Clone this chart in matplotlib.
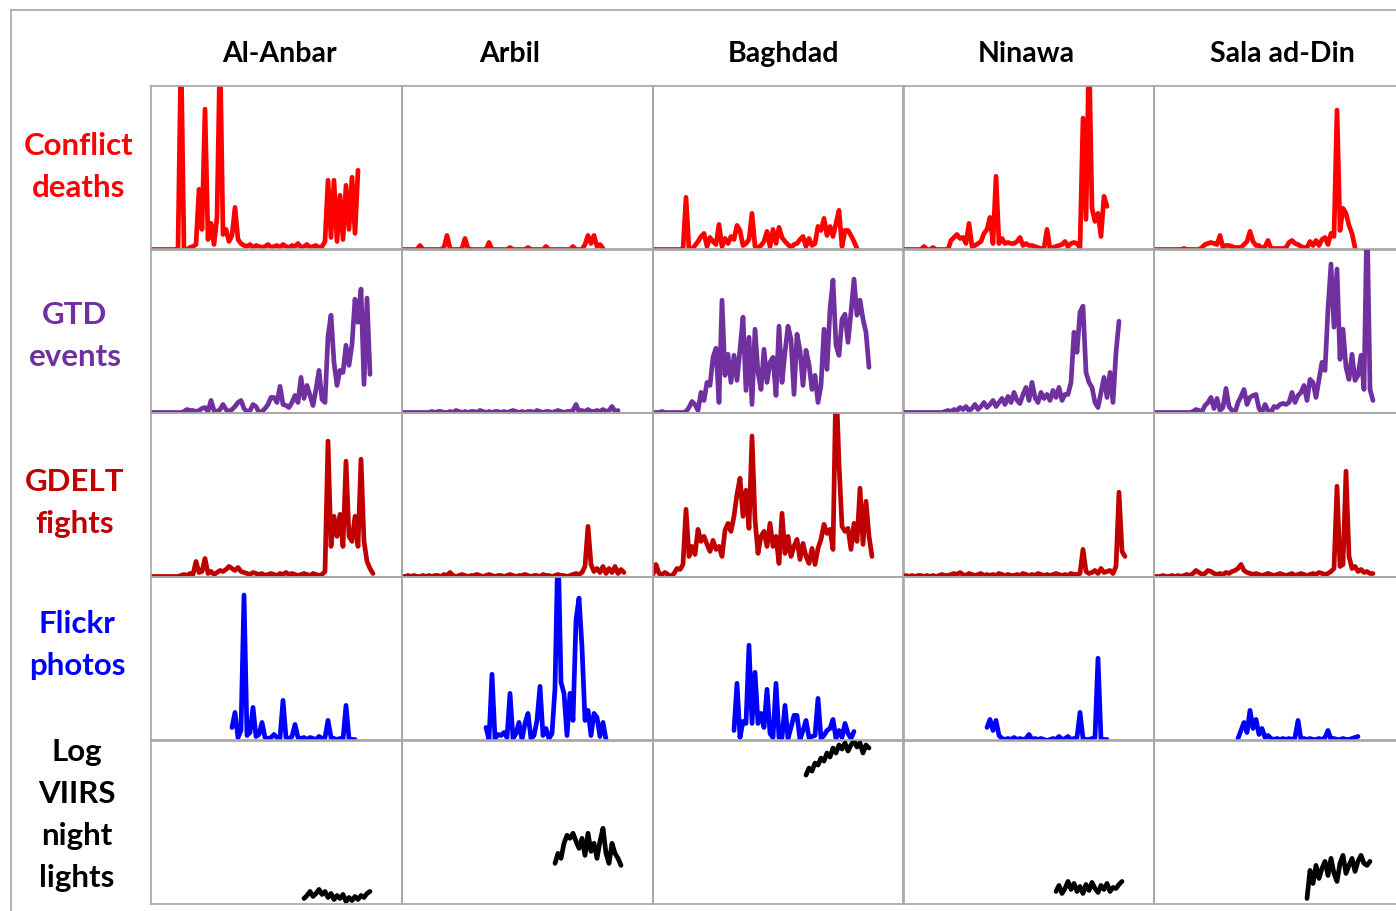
import matplotlib.pyplot as plt

regions = ["Al-Anbar", "Arbil", "Baghdad", "Ninawa", "Sala ad-Din"]
row_labels = ["Conflict\ndeaths", "GTD\nevents", "GDELT\nfights", "Flickr\nphotos",
              "Log\nVIIRS\nnight\nlights"]
row_colors = ["#FF0000", "#7030A0", "#C00000", "#0000FF", "#000000"]

deaths_anbar = [0, 0, 0, 0, 0, 0, 0, 0, 0, 0, 200, 0, 0, 2, 3, 5, 60, 20, 140, 10,
                26, 5, 32, 200, 15, 20, 8, 14, 42, 10, 6, 4, 3, 5, 2, 4, 3, 2, 3, 5,
                2, 3, 4, 2, 5, 3, 2, 4, 3, 6, 2, 3, 5, 2, 3, 4, 2, 3, 8, 69,
                12, 69, 8, 54, 10, 64, 20, 72, 16, 79]
deaths_arbil = [0, 0, 0, 0, 0, 0, 4, 0, 0, 0, 0, 0, 0, 0, 2, 14, 1, 0, 0, 0,
                1, 11, 1, 0, 0, 0, 0, 0, 0, 7, 0, 0, 0, 0, 0, 0, 2, 0, 0, 0,
                0, 0, 2, 0, 0, 0, 0, 0, 3, 0, 0, 0, 0, 0, 0, 0, 0, 3, 0, 0,
                0, 5, 14, 6, 14, 3, 5, 1]
deaths_baghdad = [0, 0, 0, 0, 0, 0, 0, 0, 0, 0, 0, 52, 0, 0, 4, 8, 13, 16, 3, 12,
                  8, 5, 25, 3, 11, 6, 13, 10, 24, 19, 4, 6, 10, 36, 3, 2, 4, 8, 18, 3,
                  20, 6, 22, 12, 8, 5, 2, 5, 6, 10, 13, 3, 11, 4, 6, 23, 19, 31, 14, 23,
                  13, 26, 39, 3, 19, 19, 14, 8, 1]
deaths_ninawa = [0, 0, 0, 0, 0, 0, 0, 3, 0, 0, 2, 0, 0, 0, 0, 0, 9, 12, 15, 11,
                 12, 6, 26, 3, 4, 6, 8, 16, 20, 32, 6, 73, 6, 11, 6, 7, 6, 6, 8, 12,
                 4, 6, 4, 4, 3, 2, 1, 1, 20, 1, 2, 3, 4, 5, 8, 3, 6, 7, 6, 2,
                 131, 30, 200, 41, 28, 36, 13, 53, 43]
deaths_sala = [0, 0, 0, 0, 0, 0, 0, 0, 0, 0, 1, 0, 0, 0, 0, 0, 2, 5, 6, 7,
               6, 5, 14, 2, 4, 4, 3, 2, 2, 2, 5, 8, 18, 8, 4, 4, 1, 3, 9, 1,
               1, 1, 1, 1, 2, 7, 9, 6, 5, 3, 2, 2, 8, 4, 9, 4, 10, 12, 5, 16,
               13, 139, 19, 41, 36, 24, 16, 2]

gtd_anbar = [0, 0, 0, 0, 0, 0, 0, 0, 0, 0, 0, 1, 3, 2, 2, 1, 2, 4, 5, 1,
             12, 2, 1, 3, 8, 3, 1, 3, 6, 10, 12, 4, 1, 2, 8, 6, 0, 1, 4, 8,
             15, 15, 10, 26, 8, 7, 5, 10, 17, 10, 35, 14, 27, 17, 7, 23, 42, 13, 10, 76,
             97, 50, 27, 42, 40, 67, 47, 68, 113, 90, 123, 28, 114, 38]
gtd_arbil = [0, 0, 0, 0, 0, 0, 0, 0, 0, 0, 1, 0, 1, 1, 0, 0, 1, 0, 2, 1,
             0, 1, 0, 1, 1, 0, 2, 1, 0, 1, 0, 1, 1, 0, 1, 0, 1, 2, 1, 0,
             1, 0, 1, 1, 0, 2, 1, 0, 1, 1, 0, 1, 2, 1, 0, 1, 1, 2, 8, 1,
             2, 1, 3, 1, 1, 2, 1, 3, 1, 2, 6, 1, 2]
gtd_baghdad = [0, 0, 0, 1, 0, 0, 0, 0, 0, 0, 0, 1, 5, 11, 8, 2, 20, 12, 30, 27,
               55, 64, 10, 112, 37, 58, 30, 57, 32, 63, 95, 22, 75, 8, 83, 40, 23, 63, 30, 50,
               55, 17, 86, 30, 60, 86, 73, 18, 78, 62, 27, 62, 48, 23, 37, 10, 27, 83, 43, 103,
               132, 67, 57, 93, 98, 70, 100, 133, 97, 112, 93, 80, 45]
gtd_ninawa = [0, 0, 0, 0, 0, 0, 0, 0, 0, 0, 0, 0, 0, 0, 1, 2, 1, 3, 2, 5,
              3, 6, 2, 4, 8, 3, 6, 10, 5, 8, 12, 6, 10, 14, 8, 16, 10, 20, 12, 9,
              18, 25, 12, 30, 15, 10, 20, 14, 18, 12, 22, 15, 25, 12, 18, 18, 30, 80, 60, 100,
              106, 40, 30, 25, 10, 5, 20, 35, 15, 40, 10, 60, 91]
gtd_sala = [0, 0, 0, 0, 0, 0, 0, 0, 0, 0, 0, 0, 0, 1, 3, 2, 1, 7, 10, 15,
            4, 14, 2, 5, 24, 6, 2, 0, 10, 16, 23, 8, 15, 17, 18, 4, 0, 8, 2, 0,
            6, 5, 8, 9, 8, 10, 20, 10, 17, 20, 27, 12, 33, 30, 15, 33, 50, 42, 103, 148,
            85, 143, 53, 83, 45, 33, 58, 32, 37, 57, 23, 200, 23, 12]

gdelt_anbar = [0, 0, 0, 0, 0, 0, 0, 0, 0, 0, 1, 2, 1, 3, 2, 15, 4, 5, 18, 3,
               5, 2, 4, 6, 5, 7, 10, 8, 6, 9, 5, 4, 3, 2, 4, 3, 2, 3, 1, 2,
               3, 2, 1, 3, 2, 4, 2, 3, 2, 1, 2, 3, 2, 1, 3, 2, 1, 2, 5, 135,
               30, 60, 40, 62, 30, 115, 40, 35, 60, 30, 117, 35, 15, 8, 3]
gdelt_arbil = [0, 0, 1, 0, 1, 0, 0, 1, 0, 1, 0, 1, 1, 0, 2, 1, 4, 1, 0, 1,
               2, 1, 0, 1, 1, 2, 1, 0, 1, 2, 1, 0, 1, 1, 0, 1, 2, 1, 0, 1,
               1, 2, 1, 0, 1, 1, 0, 2, 1, 1, 0, 1, 2, 1, 1, 0, 1, 2, 3, 2,
               4, 10, 50, 12, 5, 8, 4, 10, 3, 8, 4, 10, 3, 7, 4]
gdelt_baghdad = [2, 12, 3, 2, 4, 2, 0, 3, 8, 7, 12, 67, 20, 30, 22, 47, 35, 40, 32, 25,
                 36, 27, 30, 20, 46, 53, 45, 60, 82, 98, 60, 86, 48, 140, 57, 23, 40, 45, 30, 53,
                 30, 40, 13, 63, 23, 40, 20, 30, 37, 17, 33, 20, 13, 28, 12, 28, 37, 52, 43, 47,
                 27, 200, 112, 50, 45, 48, 27, 53, 35, 88, 32, 75, 40, 20]
gdelt_ninawa = [0, 1, 0, 1, 0, 1, 1, 0, 1, 0, 1, 0, 1, 2, 1, 1, 2, 3, 2, 4,
                2, 1, 3, 2, 1, 2, 3, 1, 2, 1, 2, 1, 3, 2, 1, 2, 1, 1, 2, 1,
                3, 2, 1, 2, 1, 3, 2, 1, 2, 1, 2, 3, 2, 1, 2, 1, 3, 2, 2, 3,
                27, 5, 3, 4, 6, 3, 8, 4, 5, 6, 3, 10, 84, 25, 20]
gdelt_sala = [0, 0, 0, 1, 0, 0, 1, 0, 1, 0, 1, 2, 1, 3, 6, 4, 2, 3, 6, 5,
              3, 2, 3, 2, 4, 3, 5, 6, 8, 12, 6, 4, 3, 2, 3, 2, 1, 2, 3, 2,
              1, 2, 3, 2, 1, 2, 3, 1, 2, 3, 2, 1, 2, 3, 2, 4, 3, 2, 3, 5,
              8, 90, 10, 12, 105, 20, 8, 10, 5, 7, 4, 5, 3, 3]

flickr_start = [27, 28, 27, 28, 28]
flickr_anbar = [13, 28, 3, 10, 145, 5, 8, 33, 4, 6, 18, 3, 2, 3, 6, 3, 2, 40, 3, 2,
                4, 16, 3, 2, 3, 1, 3, 2, 1, 4, 2, 3, 20, 3, 2, 1, 2, 1, 35, 2, 1, 1]
flickr_arbil = [13, 1, 66, 2, 6, 5, 8, 3, 47, 2, 7, 18, 1, 17, 27, 2, 5, 20, 54, 5,
                12, 2, 7, 52, 200, 58, 47, 5, 47, 20, 120, 142, 93, 20, 30, 5, 27, 23, 4, 18, 1]
flickr_baghdad = [10, 57, 3, 19, 17, 95, 17, 68, 17, 27, 13, 51, 7, 3, 57, 3, 3, 35, 2, 13,
                  25, 25, 1, 10, 20, 3, 4, 5, 42, 2, 5, 10, 12, 21, 2, 10, 3, 17, 7, 2, 9]
flickr_ninawa = [13, 21, 10, 20, 5, 2, 1, 2, 1, 3, 1, 2, 1, 2, 6, 1, 2, 1, 2, 1,
                 0, 1, 2, 1, 4, 1, 2, 4, 1, 2, 3, 28, 2, 1, 1, 2, 3, 82, 1, 1, 1]
flickr_sala = [2, 10, 18, 8, 30, 12, 21, 6, 12, 3, 5, 2, 1, 2, 1, 2, 1, 2, 1, 3,
               20, 1, 2, 1, 2, 1, 1, 2, 1, 3, 10, 1, 2, 1, 1, 2, 1, 1, 2, 3, 4]

lights_start = 51
lights_anbar = [5, 8, 12, 7, 10, 14, 9, 12, 6, 10, 4, 8, 5, 9, 2, 6, 3, 7, 4, 8, 6, 10, 12]
lights_arbil = [40, 50, 45, 60, 68, 65, 70, 62, 55, 65, 48, 70, 52, 60, 45, 62, 75, 50, 40, 60, 50, 45, 38]
lights_baghdad = [128, 135, 132, 140, 138, 145, 142, 150, 146, 155, 150, 158, 154, 160, 152, 158,
                  162, 156, 160, 150, 158, 155]
lights_ninawa = [12, 18, 10, 15, 22, 14, 20, 12, 17, 10, 19, 13, 21, 15, 11, 18, 14, 20, 12, 16, 15, 19, 22]
lights_sala = [5, 33, 20, 38, 25, 35, 42, 28, 45, 30, 22, 40, 48, 30, 38, 45, 32, 42, 48, 40, 38, 42]

grid = [
    [(0, deaths_anbar), (0, deaths_arbil), (0, deaths_baghdad), (0, deaths_ninawa), (0, deaths_sala)],
    [(0, gtd_anbar), (0, gtd_arbil), (0, gtd_baghdad), (0, gtd_ninawa), (0, gtd_sala)],
    [(0, gdelt_anbar), (0, gdelt_arbil), (0, gdelt_baghdad), (0, gdelt_ninawa), (0, gdelt_sala)],
    [(s, v) for s, v in zip(flickr_start, [flickr_anbar, flickr_arbil, flickr_baghdad,
                                            flickr_ninawa, flickr_sala])],
    [(lights_start, v) for v in [lights_anbar, lights_arbil, lights_baghdad,
                                  lights_ninawa, lights_sala]],
]

W, H = 1396, 911
fig = plt.figure(figsize=(W / 100, H / 100), dpi=100)
font = ["Lato", "DejaVu Sans"]
edge = "#a6a6a6"

col_left = [151, 402, 653, 903, 1154]
row_top = [86, 249, 413, 577, 740]
cell_w, cell_h = 251, 163.5

for r in range(5):
    for c in range(5):
        ax = fig.add_axes([col_left[c] / W, 1 - (row_top[r] + cell_h) / H, cell_w / W, cell_h / H])
        start, vals = grid[r][c]
        ax.plot(range(start, start + len(vals)), vals, color=row_colors[r], lw=3.4,
                solid_joinstyle="round", solid_capstyle="round")
        ax.set_xlim(0, cell_w / 3)
        ax.set_ylim(0, 163)
        ax.set_xticks([])
        ax.set_yticks([])
        for s in ax.spines.values():
            s.set_color(edge)
            s.set_linewidth(1.2)
        ax.patch.set_alpha(0)

# outer frame
fig.add_artist(plt.Line2D([11 / W, 1], [1 - 10 / H, 1 - 10 / H], color=edge, lw=1.2))
fig.add_artist(plt.Line2D([11 / W, 11 / W], [1 - 10 / H, 0], color=edge, lw=1.2))

header_x = [279, 510, 784, 1026, 1282]
for name, x in zip(regions, header_x):
    fig.text(x / W, 1 - 54 / H, name, ha="center", va="center", fontsize=20.5,
             fontweight="bold", family=font, color="black")

label_x = [79, 75, 75, 77, 77]
label_y = [167, 336, 503, 645, 815]
for lab, x, y, col in zip(row_labels, label_x, label_y, row_colors):
    fig.text(x / W, 1 - y / H, lab, ha="center", va="center", fontsize=22.5,
             fontweight="bold", family=font, color=col, linespacing=1.61)

fig.savefig("out.png", dpi=100)
